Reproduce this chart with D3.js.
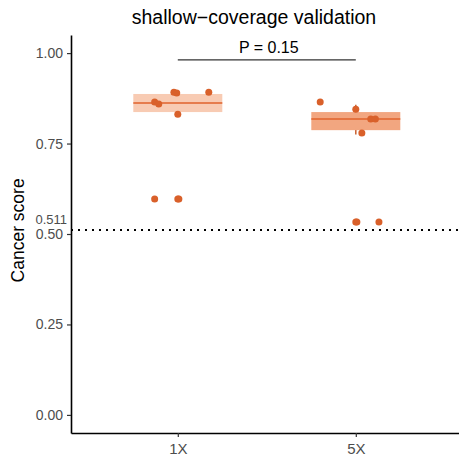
<!DOCTYPE html>
<html>
<head>
<meta charset="utf-8">
<script src="https://cdn.jsdelivr.net/npm/d3@7"></script>
<style>
  body { margin: 0; background: #fff; }
  svg { font-family: "Liberation Sans", Arial, sans-serif; }
</style>
</head>
<body>
<svg id="chart" width="459" height="463"></svg>
<script>
// groups on the x axis
const groups = ['1X', '5X']

// cancer score of each sample
const scores1X = [0.892, 0.890, 0.892, 0.865, 0.859, 0.831, 0.597, 0.597, 0.597]
const jitter1X = [-0.022, -0.006, 0.174, -0.13, -0.107, 0, -0.13, 0, 0.006]
const scores5X = [0.865, 0.845, 0.818, 0.818, 0.779, 0.533, 0.533, 0.533]
const jitter5X = [-0.2, 0, 0.084, 0.11, 0.034, 0, 0.006, 0.13]

// crossbar: mid, lower, upper
const boxMid = [0.862, 0.818]
const boxLow = [0.837, 0.787]
const boxHigh = [0.887, 0.837]
// thin range line behind the bar
const rangeLow = [0.845, 0.775]
const rangeHigh = [0.88, 0.857]

const yTicks = [0, 0.25, 0.5, 0.75, 1]
const cutoff = 0.511
const pLabel = 'P = 0.15'

const svg = d3.select('#chart')
const margin = { left: 71, top: 35, bottom: 30 }
const height = 463

var x = d3.scaleLinear().domain([0.4, 2.6]).range([margin.left, margin.left + 2.2 * 178])
var y = d3.scaleLinear().domain([-0.05, 1.05]).range([height - margin.bottom, margin.top])

const ptColor = '#d9602a'
const lineColor = '#e0622b'
const fills = ['#f8cbb3', '#f2a680']

// title
svg.append('text')
  .attr('x', 254).attr('y', 24)
  .attr('text-anchor', 'middle')
  .attr('font-size', 19.5)
  .attr('fill', '#000')
  .text('shallow\u2212coverage validation')

// y axis
const gy = svg.append('g').attr('transform', 'translate(' + margin.left + ',0)')
  .call(d3.axisLeft(y).tickValues(yTicks).tickFormat(d3.format('.2f')).tickSize(4).tickSizeOuter(0))
gy.select('.domain').attr('stroke', '#000').attr('stroke-width', 1.6)
gy.selectAll('.tick line').attr('stroke', '#333').attr('stroke-width', 1.2)
gy.selectAll('.tick text').attr('font-size', 14).attr('fill', '#4d4d4d').attr('dx', '-1')

// extra 0.511 label
svg.append('text')
  .attr('x', margin.left - 4).attr('y', y(cutoff) - 6)
  .attr('text-anchor', 'end')
  .attr('font-size', 13)
  .attr('fill', '#4d4d4d')
  .text(String(cutoff))

// x axis
const gx = svg.append('g').attr('transform', 'translate(0,' + (height - margin.bottom) + ')')
  .call(d3.axisBottom(x).tickValues([1, 2]).tickFormat((d) => groups[d - 1]).tickSize(4).tickSizeOuter(0))
gx.select('.domain').attr('stroke', '#000').attr('stroke-width', 1.6)
gx.selectAll('.tick line').attr('stroke', '#333').attr('stroke-width', 1.2)
gx.selectAll('.tick text').attr('font-size', 15).attr('fill', '#4d4d4d').attr('dy', '0.95em')

// y label
svg.append('text')
  .attr('transform', 'translate(24,' + y(0.51) + ') rotate(-90)')
  .attr('text-anchor', 'middle')
  .attr('font-size', 17.5)
  .attr('fill', '#000')
  .text('Cancer score')

// cutoff line
svg.append('line')
  .attr('x1', margin.left).attr('x2', 459)
  .attr('y1', y(cutoff)).attr('y2', y(cutoff))
  .attr('stroke', '#000')
  .attr('stroke-width', 2)
  .attr('stroke-dasharray', '2,5')

// range lines
groups.forEach(function (g, i) {
  svg.append('line')
    .attr('x1', x(i + 1)).attr('x2', x(i + 1))
    .attr('y1', y(rangeLow[i])).attr('y2', y(rangeHigh[i]))
    .attr('stroke', '#c9602f').attr('stroke-width', 1.5)
})

// crossbars
groups.forEach(function (g, i) {
  svg.append('rect')
    .attr('x', x(i + 1 - 0.25)).attr('width', x(1.5) - x(1))
    .attr('y', y(boxHigh[i])).attr('height', y(boxLow[i]) - y(boxHigh[i]))
    .attr('fill', fills[i])
  svg.append('line')
    .attr('x1', x(i + 1 - 0.25)).attr('x2', x(i + 1 + 0.25))
    .attr('y1', y(boxMid[i])).attr('y2', y(boxMid[i]))
    .attr('stroke', lineColor).attr('stroke-width', 1.6)
})

// points
const pts = []
scores1X.forEach((v, i) => pts.push({ g: 1, v: v, j: jitter1X[i] }))
scores5X.forEach((v, i) => pts.push({ g: 2, v: v, j: jitter5X[i] }))

svg.selectAll('.pt')
  .data(pts)
  .enter()
  .append('circle')
  .attr('class', 'pt')
  .attr('cx', (d) => x(d.g + d.j))
  .attr('cy', (d) => y(d.v))
  .attr('r', 3.5)
  .attr('fill', ptColor)

// comparison bracket
svg.append('line')
  .attr('x1', x(1)).attr('x2', x(2))
  .attr('y1', y(0.981)).attr('y2', y(0.981))
  .attr('stroke', '#333').attr('stroke-width', 1.2)
svg.append('text')
  .attr('x', x(1.5) + 2).attr('y', y(0.981) - 7)
  .attr('text-anchor', 'middle')
  .attr('font-size', 16)
  .attr('fill', '#000')
  .text(pLabel)
</script>
</body>
</html>
